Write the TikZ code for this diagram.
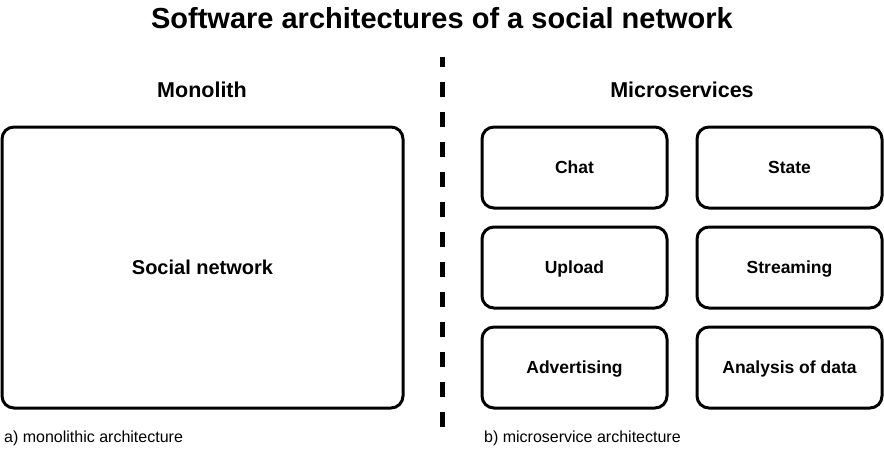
\documentclass[tikz,border=0pt]{standalone}
\usepackage{fontspec}
\setmainfont{Liberation Sans}
\begin{document}
\begin{tikzpicture}[x=1pt,y=-1pt,
  fs/.style={font=\fontsize{#1}{#1}\selectfont\bfseries,text height=0.716*#1pt,text depth=0pt},
  fsr/.style={font=\fontsize{#1}{#1}\selectfont,text height=0.716*#1pt,text depth=0pt},
  box/.style={draw=black,line width=3pt,rounded corners=12pt,fill=white,inner sep=0pt},
  svc/.style={box,minimum width=185pt,minimum height=81pt,fs=17.5},
  heading/.style={fs=21.5,inner sep=0pt},
  caption/.style={fsr=16,inner sep=0pt,anchor=west},
  divider/.style={line width=5pt,dash pattern=on 15.5pt off 14.5pt,dash phase=5.5pt}]
\useasboundingbox (0,0) rectangle (884,448);
\node[fs=29,inner sep=0pt] (title) at (442,18) {Software architectures of a social network};
\node[heading] (monoh) at (202,90) {Monolith};
\node[heading] (microh) at (682,89.5) {Microservices};
\node[box,minimum width=401pt,minimum height=281pt,fs=20] (mono) at (202.5,267.5) {Social network};
\node[svc] (chat) at (574.5,167.5) {Chat};
\node[svc] (state) at (789.5,167.5) {State};
\node[svc] (upload) at (574.5,267.5) {Upload};
\node[svc] (stream) at (789.5,267.5) {Streaming};
\node[svc] (adv) at (574.5,367.5) {Advertising};
\node[svc] (anal) at (789.5,367.5) {Analysis of data};
\node[caption] (capa) at (4,437) {a) monolithic architecture};
\node[caption] (capb) at (484,437) {b) microservice architecture};
\coordinate (dtop) at (442.5,57);
\coordinate (dbot) at (442.5,428);
\draw[divider] (dtop) -- (dbot);
\end{tikzpicture}
\end{document}
